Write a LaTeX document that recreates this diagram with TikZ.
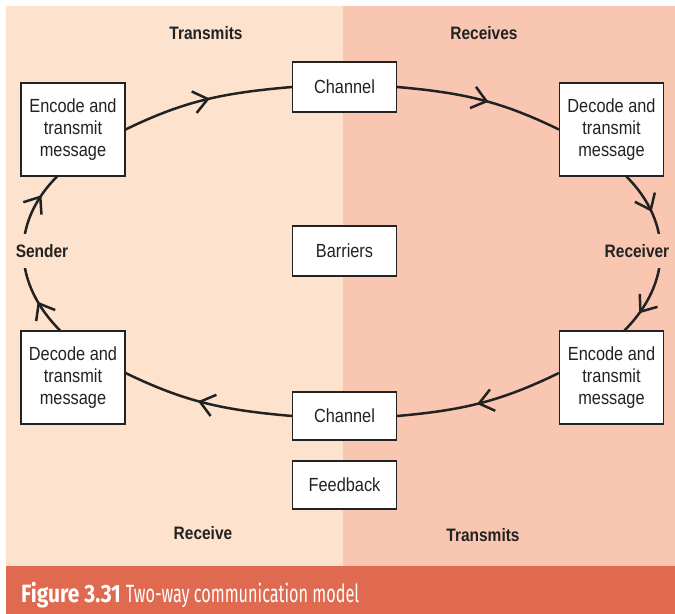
\documentclass[tikz,border=0pt]{standalone}
\usepackage{fontspec}
\usetikzlibrary{arrows.meta,decorations.markings}
\newfontfamily\boxfont[FakeStretch=0.86]{Liberation Sans}
\newfontfamily\capbfont[FakeStretch=0.84]{Fira Sans}
\newfontfamily\caprfont[FakeStretch=0.65]{Fira Sans}
\definecolor{leftbg}{RGB}{253,227,205}
\definecolor{rightbg}{RGB}{249,198,178}
\definecolor{capbg}{RGB}{224,106,80}
\definecolor{ink}{RGB}{34,34,34}
\tikzset{
  msgbox/.style={draw=ink,line width=1.2bp,fill=white,minimum width=104bp,minimum height=93bp,inner sep=0pt,align=center,
    font=\boxfont\fontsize{19bp}{22bp}\selectfont,text=ink},
  smallbox/.style={msgbox,minimum height=50bp},
  lbl/.style={font=\boxfont\bfseries\fontsize{18bp}{21bp}\selectfont,text=ink,inner sep=1pt},
  flow/.style={draw=ink,line width=2.5bp},
  arr/.style={postaction={decorate},decoration={markings,mark=at position #1 with {\arrow[ink,line width=2.5bp]{Straight Barb[length=14bp,width=22bp]}}}},
  arrtwo/.style 2 args={postaction={decorate},decoration={markings,
     mark=at position #1 with {\arrow[ink,line width=2.5bp]{Straight Barb[length=14bp,width=22bp]}},
     mark=at position #2 with {\arrow[ink,line width=2.5bp]{Straight Barb[length=14bp,width=22bp]}}}}
}
\begin{document}
\begin{tikzpicture}[x=1bp,y=1bp]
\useasboundingbox (0,0) rectangle (675,614);
% backgrounds
\fill[leftbg] (6,48) rectangle (343,608);
\fill[rightbg] (343,48) rectangle (675,608);
\fill[capbg] (6,0) rectangle (675,48);
% boxes
\node[msgbox] (ETL) at (73,484.5) {Encode and\\transmit\\message};
\node[smallbox] (CHT) at (344.5,527) {Channel};
\node[msgbox] (DTR) at (611.5,484.5) {Decode and\\transmit\\message};
\node[smallbox] (BAR) at (344.5,363) {Barriers};
\node[msgbox] (DTL) at (73,236.5) {Decode and\\transmit\\message};
\node[msgbox] (ETR) at (611.5,236.5) {Encode and\\transmit\\message};
\node[smallbox,minimum height=48bp] (CHB) at (344.5,198) {Channel};
\node[smallbox,minimum height=48bp] (FB) at (344.5,129) {Feedback};
% connectors
\draw[flow,arr=0.52] (ETL.east) to[out=26,in=185] (CHT.west);
\draw[flow,arr=0.55] (CHT.east) to[out=-5,in=154] (DTR.west);
\draw[flow,arrtwo={0.25}{0.87},looseness=1.1] ([xshift=15bp]DTR.south) to[out=-45,in=45] ([xshift=13bp]ETR.north);
\draw[flow,arr=0.52] ([yshift=4.5bp]ETR.west) to[out=206,in=5] (CHB.east);
\draw[flow,arr=0.55] (CHB.west) to[out=175,in=-26] ([yshift=4.5bp]DTL.east);
\draw[flow,arrtwo={0.21}{0.86},looseness=1.1] ([xshift=-13bp]DTL.north) to[out=135,in=-135] ([xshift=-16bp]ETL.south);
% labels
\node[lbl,fill=leftbg,inner ysep=10bp] (SND) at (42,363) {Sender};
\node[lbl,fill=rightbg,inner ysep=10bp] (RCV) at (637,363) {Receiver};
\node[lbl] (TL) at (206,581) {Transmits};
\node[lbl] (RR) at (484,581) {Receives};
\node[lbl] (RL) at (203,81) {Receive};
\node[lbl] (TR) at (483,79) {Transmits};
% caption
\node[anchor=west,text=white,inner sep=0pt] (CAP) at (21,19) {\capbfont\bfseries\fontsize{25bp}{27bp}\selectfont Figure 3.31\ \caprfont\mdseries Two-way communication model};
\end{tikzpicture}
\end{document}
